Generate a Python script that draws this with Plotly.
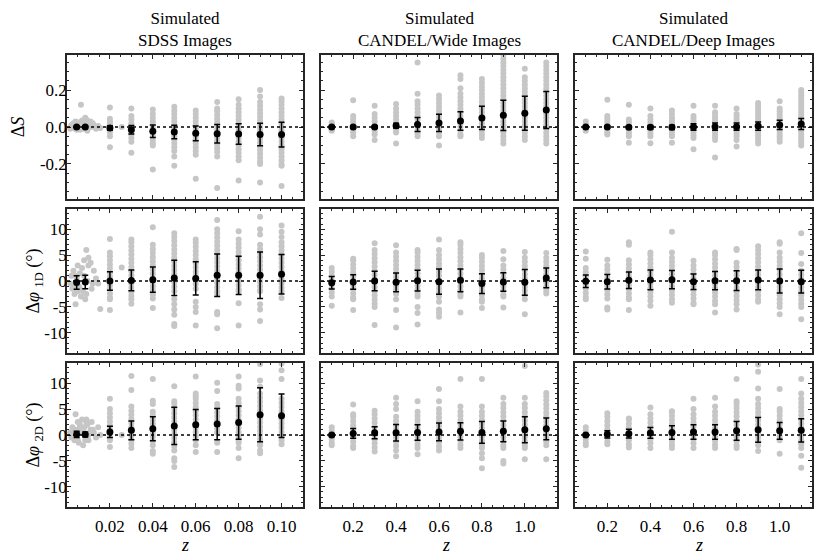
import plotly.graph_objects as go

# ---------------- data ----------------
z_sdss = [0.0045, 0.0085, 0.02, 0.03, 0.04, 0.05, 0.06, 0.07, 0.08, 0.09, 0.10]
z_candel = [0.1, 0.2, 0.3, 0.4, 0.5, 0.6, 0.7, 0.8, 0.9, 1.0, 1.1]
z_sdss_bins = [0.02, 0.03, 0.04, 0.05, 0.06, 0.07, 0.08, 0.09, 0.10]

# low-z SDSS galaxies (individual redshifts)
lowz_x = [0.0015, 0.002, 0.0025, 0.003, 0.0035, 0.004, 0.0045, 0.005, 0.0055, 0.006, 0.0065, 0.007,
          0.0075, 0.008, 0.0085, 0.009, 0.0095, 0.010, 0.011, 0.0115, 0.0125, 0.0135, 0.0145, 0.0155, 0.0255,
          0.003, 0.004, 0.005, 0.006, 0.008, 0.009, 0.010, 0.012]
lowz_S = [-0.01, 0.01, -0.005, 0.02, 0.0, 0.03, -0.015, 0.01, 0.025, 0.0, 0.12, 0.035, -0.01, 0.02,
          0.05, 0.04, -0.02, 0.015, 0.03, 0.0, 0.01, -0.01, 0.005, -0.005, 0.0,
          0.01, -0.01, 0.02, -0.015, 0.0, -0.01, 0.03, 0.02]
lowz_P1 = [-0.5, 1.0, -1.5, 2.0, -2.5, -4.5, 0.5, 3.0, -1.0, 1.5, -3.0, 2.5, -2.0, 4.0, -3.5, 6.0,
           0.0, 4.5, 3.5, -1.5, 2.0, 0.5, -0.5, -5.4, 2.6,
           -1.0, 1.0, -2.0, -1.5, 1.0, -2.5, 3.0, -0.5]
lowz_P2 = [0.5, -0.5, 1.5, 1.0, -1.0, 4.0, 0.0, 2.5, -1.5, 2.0, 0.5, 3.0, -2.0, 1.5, -1.0, 3.0, 2.0,
           0.0, 1.0, 2.5, 0.5, -0.5, 1.5, 0.0, 0.0,
           -0.5, 1.0, -1.0, 1.5, 0.5, 2.5, -1.0, 1.0]

# scatter per bin: Delta S
S_sdss_pts = [
    [0.105, 0.045, 0.03, 0.02, 0.01, 0.0, -0.01, -0.02, -0.03, -0.05, -0.11],
    [0.1, 0.06, 0.04, 0.02, 0.0, -0.02, -0.04, -0.06, -0.08, -0.14],
    [0.095, 0.07, 0.05, 0.03, 0.01, -0.01, -0.03, -0.05, -0.07, -0.09, -0.1, -0.23],
    [0.11, 0.09, 0.07, 0.05, 0.03, 0.01, -0.01, -0.03, -0.05, -0.07, -0.09, -0.11, -0.13, -0.16, -0.21],
    [0.09, 0.07, 0.05, 0.03, 0.01, -0.01, -0.03, -0.05, -0.07, -0.09, -0.11, -0.13, -0.15, -0.28],
    [0.135, 0.1, 0.085, 0.065, 0.045, 0.025, 0.005, -0.015, -0.035, -0.055, -0.075, -0.095, -0.115, -0.135, -0.16, -0.33],
    [0.15, 0.12, 0.1, 0.08, 0.06, 0.04, 0.02, 0.0, -0.02, -0.04, -0.06, -0.08, -0.1, -0.12, -0.14, -0.16, -0.18, -0.29],
    [0.2, 0.165, 0.135, 0.115, 0.095, 0.075, 0.055, 0.035, 0.015, -0.005, -0.025, -0.045, -0.065, -0.085, -0.105,
     -0.125, -0.145, -0.165, -0.185, -0.2, -0.3],
    [0.155, 0.14, 0.12, 0.1, 0.08, 0.06, 0.04, 0.02, 0.0, -0.02, -0.04, -0.06, -0.08, -0.1, -0.12, -0.14, -0.16,
     -0.18, -0.2, -0.21, -0.32],
]
S_wide_pts = [
    [0.025, 0.015, 0.005, -0.005, -0.015, -0.02],
    [0.145, 0.06, 0.045, 0.03, 0.015, 0.0, -0.015, -0.03, -0.05],
    [0.115, 0.07, 0.05, 0.03, 0.01, -0.01, -0.025, -0.04, -0.07],
    [0.125, 0.1, 0.08, 0.06, 0.04, 0.02, 0.0, -0.015, -0.03, -0.09],
    [0.35, 0.18, 0.14, 0.12, 0.1, 0.08, 0.06, 0.04, 0.02, 0.0, -0.02, -0.035, -0.05],
    [0.17, 0.15, 0.13, 0.11, 0.09, 0.07, 0.05, 0.03, 0.01, -0.01, -0.03, -0.05, -0.1],
    [0.28, 0.26, 0.21, 0.18, 0.16, 0.14, 0.12, 0.1, 0.08, 0.06, 0.04, 0.02, 0.0, -0.02, -0.04, -0.05],
    [0.26, 0.24, 0.22, 0.2, 0.18, 0.16, 0.14, 0.12, 0.1, 0.08, 0.06, 0.04, 0.02, 0.0, -0.02, -0.04, -0.06],
    [0.39, 0.37, 0.35, 0.33, 0.31, 0.29, 0.27, 0.25, 0.23, 0.21, 0.19, 0.17, 0.15, 0.13, 0.11, 0.09, 0.07, 0.05,
     0.03, 0.01, -0.01, -0.03, -0.05, -0.07, -0.09],
    [0.315, 0.27, 0.25, 0.23, 0.21, 0.19, 0.17, 0.15, 0.13, 0.11, 0.09, 0.07, 0.05, 0.03, 0.01, -0.01, -0.03,
     -0.05, -0.07],
    [0.35, 0.33, 0.31, 0.29, 0.27, 0.25, 0.23, 0.21, 0.19, 0.17, 0.15, 0.13, 0.11, 0.09, 0.07, 0.05, 0.03, 0.01,
     -0.01, -0.03, -0.05, -0.07, -0.09],
]
S_deep_pts = [
    [0.03, 0.015, 0.0, -0.01, -0.02],
    [0.148, 0.06, 0.045, 0.03, 0.015, 0.0, -0.015, -0.03, -0.04],
    [0.12, 0.04, 0.025, 0.01, -0.005, -0.02, -0.035, -0.05, -0.085],
    [0.1, 0.06, 0.04, 0.025, 0.01, -0.005, -0.02, -0.035, -0.05, -0.088],
    [0.09, 0.07, 0.05, 0.035, 0.02, 0.005, -0.01, -0.025, -0.04, -0.05, -0.085],
    [0.115, 0.06, 0.045, 0.03, 0.015, 0.0, -0.015, -0.03, -0.045, -0.06, -0.12],
    [0.115, 0.08, 0.065, 0.05, 0.035, 0.02, 0.005, -0.01, -0.025, -0.04, -0.055, -0.07, -0.165],
    [0.1, 0.07, 0.055, 0.04, 0.025, 0.01, -0.005, -0.02, -0.035, -0.05, -0.07, -0.105],
    [0.13, 0.12, 0.105, 0.09, 0.075, 0.06, 0.045, 0.03, 0.015, 0.0, -0.015, -0.03, -0.045, -0.06, -0.075, -0.09],
    [0.14, 0.1, 0.085, 0.07, 0.055, 0.04, 0.025, 0.01, -0.005, -0.02, -0.035, -0.05, -0.065, -0.08],
    [0.2, 0.185, 0.17, 0.155, 0.14, 0.125, 0.11, 0.095, 0.08, 0.065, 0.05, 0.035, 0.02, 0.005, -0.01, -0.025,
     -0.04, -0.055, -0.07, -0.085, -0.1],
]

# scatter per bin: Delta phi 1D
P1_sdss_pts = [
    [8.1, 5.5, 4.8, 4.0, 3.2, 2.4, 1.6, 0.8, 0.0, -0.8, -1.6, -2.4, -3.2, -3.5, -5.6],
    [8.0, 7.5, 6.7, 5.9, 5.1, 4.3, 3.5, 2.7, 1.9, 1.1, 0.3, -0.5, -1.3, -2.1, -2.9, -3.5, -4.4],
    [10.4, 7.0, 6.2, 5.4, 4.6, 3.8, 3.0, 2.2, 1.4, 0.6, -0.2, -1.0, -1.8, -2.6, -3.4, -5.2],
    [9.2, 8.5, 7.7, 6.9, 6.1, 5.3, 4.5, 3.7, 2.9, 2.1, 1.3, 0.5, -0.3, -1.1, -2.0, -3.5, -4.5, -5.5, -6.5, -8.3, -8.7],
    [8.0, 7.4, 6.6, 5.8, 5.0, 4.2, 3.4, 2.6, 1.8, 1.0, 0.2, -0.6, -1.5, -4.0, -5.0, -6.0, -8.6],
    [11.8, 10.0, 9.2, 8.4, 7.6, 6.8, 6.0, 5.2, 4.4, 3.6, 2.8, 2.0, 1.2, 0.4, -0.4, -1.2, -2.0, -2.5, -6.0, -6.4, -9.1],
    [9.6, 8.0, 7.2, 6.4, 5.6, 4.8, 4.0, 3.2, 2.4, 1.6, 0.8, 0.0, -0.8, -1.6, -2.0, -4.3, -8.6],
    [12.4, 10.0, 9.0, 7.0, 6.2, 5.4, 4.6, 3.8, 3.0, 2.2, 1.4, 0.6, -0.2, -1.0, -1.8, -2.0, -4.5, -5.5, -7.7],
    [10.7, 9.5, 8.5, 7.5, 6.7, 5.9, 5.1, 4.3, 3.5, 2.7, 1.9, 1.1, 0.3, -0.5, -1.3, -2.0, -3.3],
]
P1_wide_pts = [
    [2.5, 1.8, 1.0, 0.2, -0.6, -1.4, -2.2, -3.0, -4.8],
    [4.3, 4.0, 3.2, 2.4, 1.6, 0.8, 0.0, -0.8, -1.6, -2.4, -3.2, -3.5, -5.6],
    [7.3, 6.0, 5.2, 4.4, 3.6, 2.8, 2.0, 1.2, 0.4, -0.4, -1.2, -2.0, -2.8, -3.6, -4.4, -5.0, -8.5],
    [6.9, 5.5, 4.7, 3.9, 3.1, 2.3, 1.5, 0.7, -0.1, -0.9, -1.7, -2.5, -3.5, -5.6, -9.0],
    [6.0, 5.5, 4.7, 3.9, 3.1, 2.3, 1.5, 0.7, -0.1, -0.9, -1.7, -2.5, -3.0, -5.0, -6.2, -8.4],
    [8.0, 6.0, 5.0, 4.2, 3.4, 2.6, 1.8, 1.0, 0.2, -0.6, -1.4, -2.2, -3.0, -4.0, -5.5, -6.2, -6.9],
    [7.5, 7.0, 6.2, 5.4, 4.6, 3.8, 3.0, 2.2, 1.4, 0.6, -0.2, -1.0, -1.8, -2.6, -3.0, -6.1],
    [5.0, 4.5, 3.7, 2.9, 2.1, 1.3, 0.5, -0.3, -1.1, -1.9, -2.7, -3.5, -4.0, -5.2],
    [5.8, 4.2, 3.0, 2.2, 1.4, 0.6, -0.2, -1.0, -1.8, -2.6, -3.0, -5.1],
    [5.6, 4.5, 3.7, 2.9, 2.1, 1.3, 0.5, -0.3, -1.1, -1.9, -2.7, -3.5, -6.4],
    [5.4, 4.5, 3.7, 2.9, 2.1, 1.3, 0.5, -0.3, -1.1, -1.9, -2.4],
]
P1_deep_pts = [
    [5.7, 4.3, 2.5, 1.7, 0.9, 0.1, -0.7, -1.5, -2.3, -3.1, -3.5],
    [4.1, 3.0, 2.2, 1.4, 0.6, -0.2, -1.0, -1.8, -2.6, -3.4, -5.1, -5.5],
    [7.5, 7.0, 4.0, 3.2, 2.4, 1.6, 0.8, 0.0, -0.8, -1.6, -2.4, -3.2, -3.5, -5.6],
    [5.5, 5.0, 4.2, 3.4, 2.6, 1.8, 1.0, 0.2, -0.6, -1.4, -2.2, -3.0, -3.8, -4.8],
    [9.5, 5.5, 4.5, 3.7, 2.9, 2.1, 1.3, 0.5, -0.3, -1.1, -1.9, -2.7, -3.5, -4.2],
    [3.9, 3.0, 2.2, 1.4, 0.6, -0.2, -1.0, -1.8, -2.6, -3.4, -4.2, -4.5],
    [5.5, 5.0, 4.2, 3.4, 2.6, 1.8, 1.0, 0.2, -0.6, -1.4, -2.2, -3.0, -3.8, -4.5, -6.1],
    [6.2, 6.0, 3.5, 2.7, 1.9, 1.1, 0.3, -0.5, -1.3, -2.1, -2.9, -3.7, -4.5, -5.5],
    [6.7, 6.0, 5.2, 4.4, 3.6, 2.8, 2.0, 1.2, 0.4, -0.4, -1.2, -2.0, -2.8, -3.6, -4.0],
    [7.5, 7.2, 5.5, 4.5, 3.7, 2.9, 2.1, 1.3, 0.5, -0.3, -1.1, -1.9, -2.7, -3.5, -4.3, -5.0, -6.4],
    [9.2, 5.4, 3.3, 2.0, 1.2, 0.4, -0.4, -1.2, -2.0, -2.8, -3.6, -4.4, -5.0, -7.4],
]

# scatter per bin: Delta phi 2D
P2_sdss_pts = [
    [7.0, 5.0, 4.2, 3.4, 2.6, 1.8, 1.0, 0.2, -0.6, -1.0, -2.3],
    [11.4, 8.7, 5.5, 4.7, 3.9, 3.1, 2.3, 1.5, 0.7, -0.1, -0.9, -1.7, -2.5],
    [10.8, 6.6, 6.0, 4.5, 3.7, 2.9, 2.1, 1.3, 0.5, -0.3, -1.1, -2.0, -3.1, -3.6],
    [9.4, 6.5, 6.0, 5.0, 4.2, 3.4, 2.6, 1.8, 1.0, 0.2, -0.6, -1.4, -2.2, -3.0, -4.5, -5.0, -6.2],
    [11.3, 8.0, 7.5, 7.0, 6.2, 5.4, 4.6, 3.8, 3.0, 2.2, 1.4, 0.6, -0.2, -1.0, -2.0, -3.3],
    [10.1, 8.5, 6.0, 5.2, 4.4, 3.6, 2.8, 2.0, 1.2, 0.5, -1.5, -3.3],
    [11.3, 9.5, 9.0, 7.0, 6.2, 5.4, 4.6, 3.8, 3.0, 2.2, 1.4, 0.6, -0.2, -1.0, -1.5, -2.5, -4.5],
    [13.7, 10.5, 9.3, 8.0, 7.2, 6.4, 5.6, 4.8, 4.0, 3.2, 2.4, 1.6, 0.8, 0.0, -0.8, -1.6, -2.0, -3.0, -3.5],
    [13.8, 12.5, 10.8, 7.0, 6.2, 5.4, 4.6, 3.8, 3.0, 2.2, 1.4, 0.6, -0.2, -1.0, -1.8],
]
P2_wide_pts = [
    [1.5, 0.8, 0.0, -0.8, -1.5, -2.0],
    [5.9, 4.0, 3.5, 2.7, 1.9, 1.1, 0.3, -0.5, -1.3, -2.1, -2.5],
    [4.7, 4.0, 3.2, 2.4, 1.6, 0.8, 0.0, -0.8, -1.6, -2.4, -3.2],
    [7.2, 6.0, 5.0, 3.5, 2.7, 1.9, 1.1, 0.3, -0.5, -1.3, -2.1, -3.0, -4.1],
    [6.5, 4.5, 3.7, 2.9, 2.1, 1.3, 0.5, -0.3, -1.1, -1.9, -2.5, -3.7],
    [8.9, 6.5, 5.0, 4.2, 3.4, 2.6, 1.8, 1.0, 0.2, -0.6, -1.4, -2.2, -3.0],
    [10.8, 5.5, 4.5, 3.7, 2.9, 2.1, 1.3, 0.5, -0.3, -1.1, -1.9, -2.5],
    [10.8, 5.5, 4.5, 3.7, 2.9, 2.1, 1.3, 0.5, -0.3, -1.1, -1.9, -2.5, -3.5, -4.5, -6.4],
    [7.2, 6.0, 5.2, 4.4, 3.6, 2.8, 2.0, 1.2, 0.4, -0.4, -1.2, -2.0, -2.5, -5.0, -5.5],
    [13.3, 7.2, 6.0, 5.2, 4.4, 3.6, 2.8, 2.0, 1.2, 0.4, -0.4, -1.2, -2.0, -2.5, -4.7],
    [8.1, 7.5, 6.7, 5.9, 5.1, 4.3, 3.5, 2.7, 1.9, 1.1, 0.3, -0.5, -1.3, -2.0, -4.7],
]
P2_deep_pts = [
    [1.5, 0.8, 0.0, -0.8, -1.5, -2.0],
    [4.2, 3.5, 2.7, 1.9, 1.1, 0.3, -0.5, -1.3, -1.8],
    [3.2, 3.0, 2.2, 1.4, 0.6, -0.2, -1.0, -1.8, -2.4],
    [5.3, 4.0, 3.2, 2.4, 1.6, 0.8, 0.0, -0.8, -1.6, -2.5],
    [4.6, 4.5, 3.7, 2.9, 2.1, 1.3, 0.5, -0.3, -1.1, -1.9, -2.5],
    [7.0, 5.0, 4.0, 3.2, 2.4, 1.6, 0.8, 0.0, -0.8, -1.6, -2.5],
    [7.2, 5.5, 4.5, 3.7, 2.9, 2.1, 1.3, 0.5, -0.3, -1.1, -1.9, -2.5],
    [10.8, 6.5, 6.0, 5.2, 4.4, 3.6, 2.8, 2.0, 1.2, 0.4, -0.4, -1.2, -2.0, -2.5],
    [13.6, 12.2, 9.0, 7.0, 6.0, 5.2, 4.4, 3.6, 2.8, 2.0, 1.2, 0.4, -0.4, -1.2, -2.0, -3.1],
    [8.9, 5.0, 4.5, 3.7, 2.9, 2.1, 1.3, 0.5, -0.3, -1.0, -3.6],
    [10.8, 8.0, 7.0, 6.2, 5.4, 4.6, 3.8, 3.0, 2.2, 1.4, 0.6, -0.2, -1.0, -1.8, -2.5, -4.0, -6.3],
]

# bin means and scatter (black points with error bars)
S_sdss_mean = [0.0, 0.0, -0.005, -0.015, -0.023, -0.027, -0.034, -0.036, -0.038, -0.041, -0.041]
S_sdss_err = [0.004, 0.004, 0.012, 0.023, 0.034, 0.037, 0.04, 0.05, 0.055, 0.061, 0.067]
S_wide_mean = [0.0, 0.0, 0.0, 0.007, 0.014, 0.022, 0.032, 0.049, 0.063, 0.074, 0.092]
S_wide_err = [0.004, 0.005, 0.006, 0.013, 0.038, 0.047, 0.05, 0.063, 0.082, 0.092, 0.1]
S_deep_mean = [0.0, 0.0, -0.002, -0.002, -0.002, 0.0, 0.002, 0.002, 0.005, 0.011, 0.016]
S_deep_err = [0.004, 0.006, 0.008, 0.01, 0.012, 0.018, 0.02, 0.02, 0.022, 0.025, 0.03]

P1_sdss_mean = [-0.3, -0.2, 0.0, 0.1, 0.26, 0.6, 0.5, 1.1, 1.1, 1.1, 1.3]
P1_sdss_err = [1.3, 1.3, 1.8, 2.0, 2.45, 3.4, 3.2, 4.1, 3.7, 4.5, 3.8]
P1_wide_mean = [-0.35, -0.2, 0.0, -0.26, 0.06, -0.13, 0.13, -0.5, -0.2, -0.26, 0.6]
P1_wide_err = [1.2, 1.4, 1.9, 1.8, 2.0, 2.45, 2.2, 1.9, 1.8, 2.5, 1.9]
P1_deep_mean = [-0.06, -0.13, 0.13, 0.2, 0.26, -0.13, 0.06, 0.06, 0.2, 0.0, -0.13]
P1_deep_err = [1.2, 1.4, 1.6, 1.9, 1.75, 1.5, 1.75, 1.9, 1.9, 2.3, 2.2]

P2_sdss_mean = [0.13, 0.1, 0.6, 0.9, 1.2, 1.75, 2.0, 2.1, 2.4, 3.9, 3.7]
P2_sdss_err = [0.6, 0.5, 1.1, 1.8, 2.3, 3.6, 2.9, 3.0, 3.2, 5.2, 4.2]
P2_wide_mean = [0.0, 0.3, 0.45, 0.45, 0.5, 0.6, 0.7, 0.5, 0.7, 1.0, 1.2]
P2_wide_err = [0.3, 0.95, 1.15, 1.6, 1.5, 1.7, 1.65, 2.1, 2.0, 2.5, 2.1]
P2_deep_mean = [0.0, 0.13, 0.26, 0.4, 0.5, 0.6, 0.6, 0.8, 1.0, 0.8, 0.9]
P2_deep_err = [0.3, 0.7, 0.85, 1.05, 1.3, 1.4, 1.4, 1.8, 2.4, 1.6, 2.25]

col_titles = ["Simulated<br>SDSS Images", "Simulated<br>CANDEL/Wide Images", "Simulated<br>CANDEL/Deep Images"]
row_titles = ["Δ<i>S</i>", "Δ<i>φ</i> <sub>1D</sub> (°)", "Δ<i>φ</i> <sub>2D</sub> (°)"]
x_title = "<i>z</i>"
S_ticks = [-0.2, 0.0, 0.2]
S_ticktext = ["-0.2", "0.0", "0.2"]
P_ticks = [-10, -5, 0, 5, 10]
P_ticktext = ["-10", "-5", "0", "5", "10"]

# ---------------- figure ----------------
# page body margin (8 px) offsets the plot; lay out in screen pixels and subtract it
OFF = 8
W, H = 822, 546
col_px = [(67, 303), (321, 557), (575, 812)]
row_px = [(55, 199), (209, 353), (363, 507)]
ztitle_px = [185, 446, 699]
FONT = "Liberation Serif"
GRAY = "#c6c6c6"
AX = "#262626"


def px_x(v):
    return (v - OFF) / W


def px_y(v):
    return 1 - (v - OFF) / H


fig = go.Figure()

panels = [
    [(S_sdss_pts, S_sdss_mean, S_sdss_err), (S_wide_pts, S_wide_mean, S_wide_err), (S_deep_pts, S_deep_mean, S_deep_err)],
    [(P1_sdss_pts, P1_sdss_mean, P1_sdss_err), (P1_wide_pts, P1_wide_mean, P1_wide_err), (P1_deep_pts, P1_deep_mean, P1_deep_err)],
    [(P2_sdss_pts, P2_sdss_mean, P2_sdss_err), (P2_wide_pts, P2_wide_mean, P2_wide_err), (P2_deep_pts, P2_deep_mean, P2_deep_err)],
]
lowz_rows = [lowz_S, lowz_P1, lowz_P2]
title_standoff = [11, 0, 0]

for r in range(3):
    for c in range(3):
        idx = r * 3 + c + 1
        xa = "x" if idx == 1 else f"x{idx}"
        ya = "y" if idx == 1 else f"y{idx}"
        pts, mean, err = panels[r][c]
        gx, gy = [], []
        bins = z_sdss_bins if c == 0 else z_candel
        for zb, vals in zip(bins, pts):
            gx += [zb] * len(vals)
            gy += vals
        if c == 0:
            gx = lowz_x + gx
            gy = lowz_rows[r] + gy
        fig.add_trace(go.Scatter(x=gx, y=gy, mode="markers", xaxis=xa, yaxis=ya,
                                 marker=dict(color=GRAY, size=6, line=dict(width=0)),
                                 showlegend=False, hoverinfo="skip"))
        zs = z_sdss if c == 0 else z_candel
        fig.add_trace(go.Scatter(x=zs, y=mean, mode="markers", xaxis=xa, yaxis=ya,
                                 marker=dict(color="black", size=7),
                                 error_y=dict(type="data", array=err, color="black", thickness=1.5, width=3),
                                 showlegend=False))
        # zero reference line
        fig.add_shape(type="line", xref=f"{xa} domain", yref=ya, x0=0, x1=1, y0=0, y1=0,
                      line=dict(color="black", width=1.5, dash="dot"), layer="above")

        xd = [px_x(col_px[c][0]), px_x(col_px[c][1])]
        yd = [px_y(row_px[r][1]), px_y(row_px[r][0])]
        if c == 0:
            xax = dict(range=[0.0, 0.11], tickvals=[0.02, 0.04, 0.06, 0.08, 0.10],
                       ticktext=["0.02", "0.04", "0.06", "0.08", "0.10"],
                       minor=dict(dtick=0.005, tick0=0, ticks="inside", ticklen=2, tickcolor=AX))
        else:
            xax = dict(range=[0.05, 1.15], tickvals=[0.2, 0.4, 0.6, 0.8, 1.0],
                       ticktext=["0.2", "0.4", "0.6", "0.8", "1.0"],
                       minor=dict(dtick=0.05, tick0=0, ticks="inside", ticklen=2, tickcolor=AX))
        xax.update(domain=xd, anchor=ya, showline=True, mirror="allticks", linecolor=AX, linewidth=1.5,
                   ticks="inside", ticklen=4, tickcolor=AX, tickwidth=1, showgrid=False, zeroline=False,
                   showticklabels=(r == 2), ticklabelstandoff=3,
                   tickfont=dict(family=FONT, size=17, color="black"))
        if r == 0:
            yax = dict(range=[-0.39, 0.39], tickvals=S_ticks, ticktext=S_ticktext,
                       minor=dict(dtick=0.05, tick0=0, ticks="inside", ticklen=2, tickcolor=AX))
        else:
            yax = dict(range=[-13.9, 13.9], tickvals=P_ticks, ticktext=P_ticktext,
                       minor=dict(dtick=1, tick0=0, ticks="inside", ticklen=2, tickcolor=AX))
        yax.update(domain=yd, anchor=xa, showline=True, mirror="allticks", linecolor=AX, linewidth=1.5,
                   ticks="inside", ticklen=4, tickcolor=AX, tickwidth=1, showgrid=False, zeroline=False,
                   showticklabels=(c == 0), ticklabelstandoff=-5,
                   tickfont=dict(family=FONT, size=17, color="black"))
        if c == 0:
            yax["title"] = dict(text=row_titles[r], font=dict(family=FONT, size=18, color="black"),
                                standoff=title_standoff[r])
        xkey = "xaxis" if idx == 1 else f"xaxis{idx}"
        ykey = "yaxis" if idx == 1 else f"yaxis{idx}"
        fig.update_layout({xkey: xax, ykey: yax})

for c in range(3):
    xc = px_x((col_px[c][0] + col_px[c][1]) / 2)
    fig.add_annotation(text=col_titles[c], xref="paper", yref="paper",
                       x=xc, y=px_y(52), xanchor="center", yanchor="bottom", showarrow=False,
                       font=dict(family=FONT, size=17, color="black"))
    fig.add_annotation(text=x_title, xref="paper", yref="paper", height=14,
                       x=px_x(ztitle_px[c]), y=px_y(545), xanchor="center", yanchor="middle", showarrow=False,
                       font=dict(family=FONT, size=18, color="black"))

fig.update_layout(width=W, height=H, margin=dict(l=0, r=0, t=0, b=0),
                  paper_bgcolor="white", plot_bgcolor="white",
                  font=dict(family=FONT, color="black"))

fig.write_html("out.html")
